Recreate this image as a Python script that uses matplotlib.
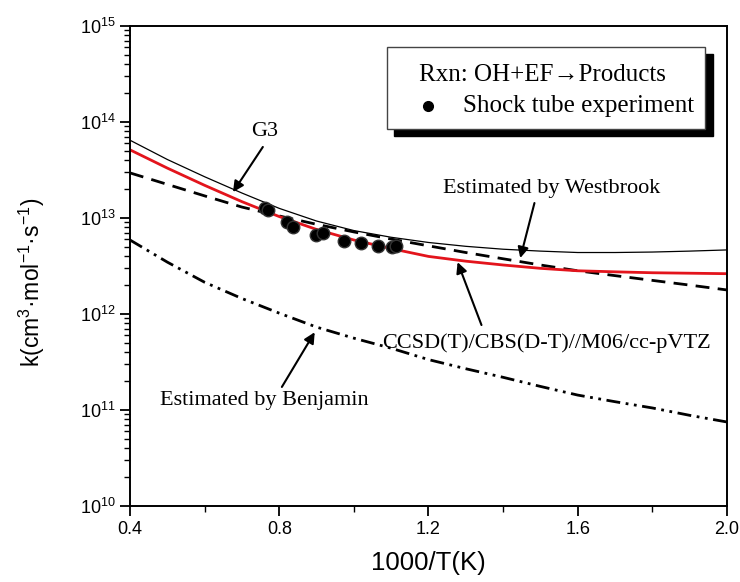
import numpy as np
import matplotlib
matplotlib.use('Agg')
import matplotlib.pyplot as plt
from matplotlib.patches import Rectangle
from matplotlib.ticker import LogLocator, FixedLocator, FixedFormatter, NullFormatter

plt.rcParams['font.family'] = ['Liberation Sans', 'DejaVu Sans']
plt.rcParams['mathtext.fontset'] = 'custom'
plt.rcParams['mathtext.rm'] = 'Liberation Sans'
plt.rcParams['mathtext.it'] = 'Liberation Sans'
plt.rcParams['mathtext.default'] = 'rm'

SERIF = ['Liberation Serif', 'DejaVu Serif']

# data
x_T = [0.4, 0.5, 0.6, 0.7, 0.8, 0.9, 1.0, 1.1, 1.2, 1.3, 1.4, 1.5, 1.6, 1.7, 1.8, 1.9, 2.0]
k_g3 = [6.46e13, 4.07e13, 2.69e13, 1.82e13, 1.26e13, 9.3e12, 7.4e12, 6.3e12,
        5.56e12, 5.07e12, 4.73e12, 4.52e12, 4.37e12, 4.37e12, 4.42e12, 4.52e12, 4.65e12]
k_ccsd = [5.13e13, 3.31e13, 2.19e13, 1.48e13, 1.035e13, 7.6e12, 5.9e12, 4.8e12,
          3.98e12, 3.55e12, 3.24e12, 2.99e12, 2.82e12, 2.75e12, 2.69e12, 2.66e12, 2.63e12]
k_westbrook = [2.95e13, 2.24e13, 1.70e13, 1.30e13, 1.05e13, 8.6e12, 7.16e12, 6.03e12,
               5.13e12, 4.37e12, 3.76e12, 3.24e12, 2.82e12, 2.51e12, 2.24e12, 2.0e12, 1.78e12]
k_benjamin = [5.9e12, 3.47e12, 2.14e12, 1.45e12, 1.02e12, 7.3e11, 5.6e11, 4.4e11,
              3.35e11, 2.69e11, 2.19e11, 1.76e11, 1.43e11, 1.22e11, 1.05e11, 8.8e10, 7.5e10]

x_exp = [0.761, 0.769, 0.820, 0.836, 0.898, 0.916, 0.973, 1.018, 1.064, 1.101, 1.112]
k_exp = [1.26e13, 1.20e13, 9.1e12, 8.1e12, 6.6e12, 6.9e12, 5.8e12, 5.5e12, 5.1e12,
         5.0e12, 5.1e12]

x_ticks = [0.4, 0.8, 1.2, 1.6, 2.0]
y_ticks = [1e10, 1e11, 1e12, 1e13, 1e14, 1e15]
y_labels = [r'$10^{10}$', r'$10^{11}$', r'$10^{12}$', r'$10^{13}$', r'$10^{14}$', r'$10^{15}$']

fig = plt.figure(figsize=(7.4, 5.82), dpi=100)
ax = fig.add_axes([0.1757, 0.1306, 0.8067, 0.8247])

ax.plot(x_T, k_g3, color='black', lw=0.9)
ax.plot(x_T, k_westbrook, color='black', lw=2, linestyle=(0, (5, 3)))
ax.plot(x_T, k_benjamin, color='black', lw=2, linestyle=(0, (5, 2, 1, 2, 1, 2)))
ax.plot(x_T, k_ccsd, color='#e3141c', lw=2)
ax.plot(x_exp, k_exp, 'o', color='black', ms=9, mec='#333333', zorder=5)

ax.set_yscale('log')
ax.set_xlim(0.4, 2.0)
ax.set_ylim(1e10, 1e15)
ax.xaxis.set_major_locator(FixedLocator(x_ticks))
ax.xaxis.set_minor_locator(FixedLocator([0.6, 1.0, 1.4, 1.8]))
ax.yaxis.set_major_locator(FixedLocator(y_ticks))
ax.yaxis.set_major_formatter(FixedFormatter(y_labels))
ax.yaxis.set_minor_locator(LogLocator(base=10, subs=np.arange(2, 10), numticks=20))
ax.yaxis.set_minor_formatter(NullFormatter())
ax.set_xticklabels(['0.4', '0.8', '1.2', '1.6', '2.0'])

ax.tick_params(which='major', direction='out', length=7, width=1.3, labelsize=13,
               top=False, right=False)
ax.tick_params(which='minor', direction='out', length=4, width=1.0, top=False, right=False)
for s in ax.spines.values():
    s.set_linewidth(1.4)

ax.set_xlabel('1000/T(K)', fontsize=18.5, labelpad=10)
ax.set_ylabel(r'k(cm$^{3}$·mol$^{-1}$·s$^{-1}$)', fontsize=16.5)
ax.yaxis.set_label_coords(-0.139, 0.465)

# legend-like box with shadow
ax.add_patch(Rectangle((0.443, 0.770), 0.533, 0.171, transform=ax.transAxes,
                       facecolor='black', edgecolor='black', zorder=6))
ax.add_patch(Rectangle((0.430, 0.785), 0.533, 0.171, transform=ax.transAxes,
                       facecolor='white', edgecolor='#444444', lw=1, zorder=7))
ax.text(0.484, 0.898, 'Rxn: OH+EF→Products', transform=ax.transAxes, fontsize=18,
        family=SERIF, va='center', ha='left', zorder=8)
ax.plot([0.499], [0.833], 'o', color='black', ms=7, transform=ax.transAxes, zorder=8)
ax.text(0.558, 0.833, 'Shock tube experiment', transform=ax.transAxes, fontsize=18,
        family=SERIF, va='center', ha='left', zorder=8)

arrow = dict(arrowstyle='-|>', color='black', lw=1.5, mutation_scale=16, shrinkA=0, shrinkB=0)
ax.text(0.761, 10**13.896, 'G3', fontsize=16, family=SERIF, ha='center', va='center')
ax.annotate('', xy=(0.676, 10**13.27), xytext=(0.756, 10**13.74), arrowprops=arrow)

ax.text(1.531, 10**13.31, 'Estimated by Westbrook', fontsize=16, family=SERIF,
        ha='center', va='center')
ax.annotate('', xy=(1.446, 10**12.583), xytext=(1.484, 10**13.156), arrowprops=arrow)

ax.text(1.077, 10**11.698, 'CCSD(T)/CBS(D-T)//M06/cc-pVTZ', fontsize=16, family=SERIF,
        ha='left', va='center')
ax.annotate('', xy=(1.278, 10**12.54), xytext=(1.342, 10**11.885), arrowprops=arrow)

ax.text(0.48, 10**11.104, 'Estimated by Benjamin', fontsize=16, family=SERIF,
        ha='left', va='center')
ax.annotate('', xy=(0.895, 10**11.81), xytext=(0.807, 10**11.24), arrowprops=arrow)

fig.savefig('out.png', dpi=100)
